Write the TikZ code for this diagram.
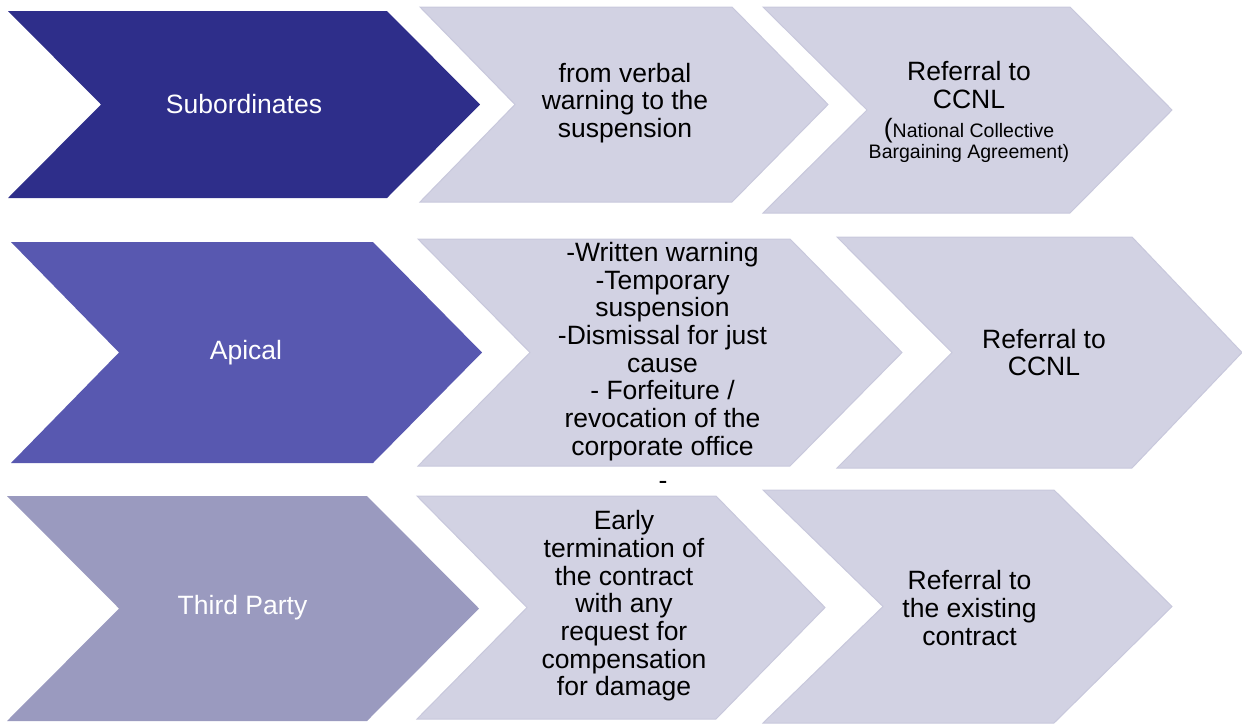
\documentclass[tikz,border=0pt]{standalone}
\usepackage{fontspec}
\setmainfont{Liberation Sans}
\definecolor{cA}{RGB}{46,46,138}
\definecolor{cB}{RGB}{88,88,176}
\definecolor{cC}{RGB}{154,154,191}
\definecolor{cL}{RGB}{210,210,227}
\definecolor{cLe}{RGB}{200,200,220}
\newcommand{\mychev}[7]{%
  \path[#7] (#1,#5) -- (#3,#5) -- (#4,{(#5+#6)/2}) -- (#3,#6) -- (#1,#6) -- (#2,{(#5+#6)/2}) -- cycle;}
\tikzset{
  lightchev/.style={fill=cL,draw=cLe,line width=1pt,line join=miter},
  txt/.style={inner sep=0pt,align=center,font=\fontsize{26.5}{27.7}\selectfont},
  wtxt/.style={txt,text=white},
  btxt/.style={txt,text=black}
}
\begin{document}
\begin{tikzpicture}[x=1pt,y=-1pt]
\useasboundingbox (0,0) rectangle (1242,724);
% row 1
\mychev{8}{101}{387}{480}{11}{198}{fill=cA}
\mychev{420}{515}{732}{828}{7}{202}{lightchev}
\mychev{763}{867}{1070}{1172}{7}{213}{lightchev}
% row 2
\mychev{11}{119}{373}{482}{242}{463}{fill=cB}
\mychev{418}{530}{790}{902}{239}{466}{lightchev}
\mychev{837}{952}{1132}{1242}{237}{468}{lightchev}
% row 3
\mychev{7}{119}{367}{479}{496}{721}{fill=cC}
\mychev{417}{527}{716}{825}{496}{719}{lightchev}
\mychev{763}{883}{1054}{1172}{490}{723}{lightchev}
% texts
\node[wtxt] (sub) at (244,104) {Subordinates};
\node[btxt] (verbal) at (625,103) {from verbal\\warning to the\\suspension};
\node[btxt] (ccnl1) at (969,112) {Referral to\\CCNL\\[1.8pt](\fontsize{19.5}{20.5}\selectfont National Collective\\[-6.7pt]\fontsize{19.5}{20.5}\selectfont Bargaining Agreement)};
\node[wtxt] (apical) at (246,353) {Apical};
\node[btxt] (written) at (662.5,351.5) {-Written warning\\-Temporary\\suspension\\-Dismissal for just\\cause\\- Forfeiture /\\revocation of the\\corporate office};
\node[btxt] (dash) at (663,485) {-};
\node[btxt] (ccnl2) at (1044,352.5) {Referral to\\CCNL};
\node[wtxt] (third) at (242.5,608) {Third Party};
\node[btxt] (early) at (624,606) {Early\\termination of\\the contract\\with any\\request for\\compensation\\for damage};
\node[btxt] (existing) at (969.5,608) {Referral to\\the existing\\contract};
\end{tikzpicture}
\end{document}
